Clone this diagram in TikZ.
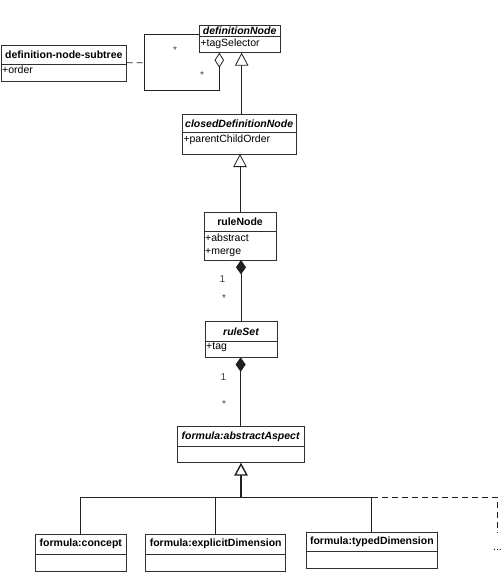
\documentclass[tikz,border=0pt]{standalone}
\usepackage{fontspec}
\setmainfont{Liberation Sans}
\usetikzlibrary{arrows.meta,calc}
\definecolor{boxc}{HTML}{303030}
\definecolor{linec}{HTML}{202020}
\begin{document}
\begin{tikzpicture}[x=1pt,y=-1pt,
  comp/.style={draw=boxc, line width=0.9pt, rectangle, inner sep=0pt, outer sep=0pt, anchor=north west, fill=white},
  ttl/.style={comp, font=\fontsize{10.5}{12}\selectfont\bfseries},
  ttli/.style={comp, font=\fontsize{10.5}{12}\selectfont\bfseries\itshape},
  atxt/.style={inner sep=0pt, anchor=north west, align=left, font=\fontsize{10.5}{12.7}\selectfont},
  conn/.style={draw=linec, line width=0.8pt},
  gen/.style={conn, -{Triangle[open, length=13pt, width=13.5pt, fill=white]}},
  agg/.style={conn, -{Diamond[open, length=15pt, width=9.5pt, fill=white]}},
  compo/.style={conn, -{Diamond[length=14.5pt, width=10pt]}},
  mult/.style={font=\fontsize{10}{11}\selectfont, text=black!75, inner sep=0pt},
  dsh/.style={conn, dash pattern=on 6pt off 4pt},
]
\useasboundingbox (0,0) rectangle (503,588);

% definitionNode
\node[ttli, minimum width=80.7pt, minimum height=11.7pt] (dnt) at (199.3,25) {definitionNode};
\node[comp, minimum width=80.7pt, minimum height=16pt] (dna) at (dnt.south west) {};
\node[atxt] (dnx) at ([xshift=1pt,yshift=-1.6pt]dna.north west) {+tagSelector};

% definition-node-subtree
\node[ttl, minimum width=125.7pt, minimum height=19.3pt] (sbt) at (1,45) {definition-node-subtree};
\node[comp, minimum width=125.7pt, minimum height=16.7pt] (sba) at (sbt.south west) {};
\node[atxt] (sbx) at ([xshift=1pt,yshift=-1.6pt]sba.north west) {+order};

% closedDefinitionNode
\node[ttli, minimum width=113.7pt, minimum height=18.4pt] (cdnt) at (182.3,114.3) {closedDefinitionNode};
\node[comp, minimum width=113.7pt, minimum height=21.3pt] (cdna) at (cdnt.south west) {};
\node[atxt] (cdnx) at ([xshift=1pt,yshift=-2pt]cdna.north west) {+parentChildOrder};

% ruleNode
\node[ttl, minimum width=72pt, minimum height=19.4pt] (rnt) at (204,212.3) {ruleNode};
\node[comp, minimum width=72pt, minimum height=28.3pt] (rna) at (rnt.south west) {};
\node[atxt] (rnx) at ([xshift=1pt,yshift=-1.8pt]rna.north west) {+abstract\\+merge};

% ruleSet
\node[ttli, minimum width=72pt, minimum height=19.3pt] (rst) at (205,321.7) {ruleSet};
\node[comp, minimum width=72pt, minimum height=16.3pt] (rsa) at (rst.south west) {};
\node[atxt] (rsx) at ([xshift=1pt,yshift=-1.6pt]rsa.north west) {+tag};

% formula:abstractAspect
\node[ttli, minimum width=126.7pt, minimum height=20pt] (aat) at (177.3,426.7) {formula:abstractAspect};
\node[comp, minimum width=126.7pt, minimum height=16pt] (aaa) at (aat.south west) {};

% subclasses
\node[ttl, minimum width=90.3pt, minimum height=19.7pt] (c1t) at (35.7,534.3) {formula:concept};
\node[comp, minimum width=90.3pt, minimum height=17pt] (c1a) at (c1t.south west) {};
\node[ttl, minimum width=140pt, minimum height=19.7pt] (c2t) at (145.7,534.3) {formula:explicitDimension};
\node[comp, minimum width=140pt, minimum height=17pt] (c2a) at (c2t.south west) {};
\node[ttl, minimum width=131.7pt, minimum height=19.4pt] (c3t) at (306,532.3) {formula:typedDimension};
\node[comp, minimum width=131.7pt, minimum height=16.6pt] (c3a) at (c3t.south west) {};

% self aggregation on definitionNode
\draw[agg] ([yshift=-3.2pt]dnt.west) -| (144,90.7) -| ([xshift=20pt]dna.south west);
\coordinate (assocpt) at (144,62.7);
\draw[dsh] ([yshift=1.6pt]sbt.south east) -- (assocpt);
\node[mult] (m1) at (175,50) {*};
\node[mult] (m2) at (202,75) {*};

% generalizations
\draw[gen] ([xshift=2.5pt]cdnt.north) -- ([xshift=2.5pt]cdnt.north |- dna.south);
\draw[gen] (rnt.north) -- (rnt.north |- cdna.south);

% compositions
\draw[compo] (rst.north) -- (rst.north |- rna.south);
\node[mult] (m3) at (222.3,279.3) {1};
\node[mult] (m4) at (224,297.7) {*};
\draw[compo] (aat.north) -- (aat.north |- rsa.south);
\node[mult] (m5) at (223.3,376.7) {1};
\node[mult] (m6) at (224,404) {*};

% generalization tree
\coordinate (jn) at (241,497.3);
\draw[gen, line width=1.4pt] (jn) -- (jn |- aaa.south);
\draw[conn] (c1t.north) |- (jn);
\draw[conn] (c2t.north) |- (jn);
\draw[conn] (c3t.north) |- (jn);
\coordinate (dashend) at (497,532.3);
\draw[dsh] (c3t.north |- jn) -| (dashend);
\node[inner sep=0pt, font=\fontsize{10.5}{12}\selectfont] (more) at (497.5,549.5) {...};
\end{tikzpicture}
\end{document}
